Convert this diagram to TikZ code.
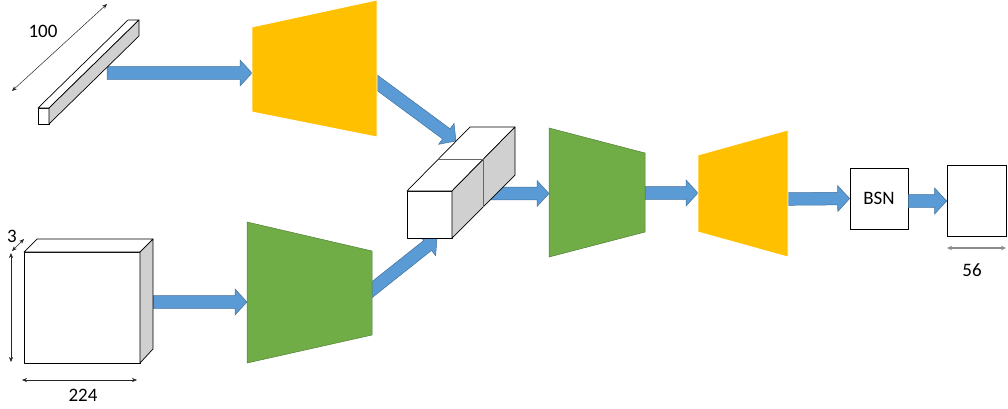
\documentclass[tikz,border=0pt]{standalone}
\usepackage{fontspec}
\setmainfont{Carlito}
\usetikzlibrary{arrows.meta,calc}
\definecolor{ablue}{RGB}{91,155,213}
\definecolor{ablueedge}{RGB}{65,113,156}
\definecolor{tyellow}{RGB}{255,192,0}
\definecolor{tgreen}{RGB}{112,173,71}
\definecolor{tgreenedge}{RGB}{80,126,50}
\definecolor{facegray}{RGB}{208,208,208}
\newcommand\blockarrow[2]{%
  \path[blockarr] let \p1=(#1), \p2=(#2),
    \n1={atan2(\y2-\y1,\x2-\x1)}, \n2={veclen(\x2-\x1,\y2-\y1)} in
    [shift={(\p1)}, rotate=\n1]
    (0,-6.3) -- ({\n2-12},-6.3) -- ({\n2-12},-13) -- ({\n2},0)
    -- ({\n2-12},13) -- ({\n2-12},6.3) -- (0,6.3) -- cycle;}
\begin{document}
\begin{tikzpicture}[x=1pt,y=-1pt,
  blockarr/.style={fill=ablue,draw=ablueedge,line width=0.5pt,line join=miter},
  yellowtrap/.style={fill=tyellow,draw=white,line width=0.8pt},
  greentrap/.style={fill=tgreen,draw=tgreenedge,line width=0.5pt},
  facewhite/.style={fill=white,draw=black,line width=0.7pt,line join=round},
  facegrey/.style={fill=facegray,draw=black,line width=0.7pt,line join=round},
  dimarrow/.style={{Stealth[length=5pt,width=4pt]}-{Stealth[length=5pt,width=4pt]},line width=0.5pt,draw=black!85},
  dimgray/.style={{Stealth[length=5pt,width=4.5pt]}-{Stealth[length=5pt,width=4.5pt]},line width=1.2pt,draw=black!45},
  lbl/.style={font=\fontsize{19}{22}\selectfont,inner sep=0pt},
  boxnode/.style={draw=black,line width=0.7pt,fill=white,inner sep=0pt}]
\useasboundingbox (0,0) rectangle (1008,408);

% connector end points
\coordinate (barout) at (107,73);
\coordinate (y1in) at (252,73);
\coordinate (y1out) at (368,76);
\coordinate (catin1) at (456,141);
\coordinate (cubeout) at (153,302);
\coordinate (g1in) at (247,302);
\coordinate (g1out) at (364,296);
\coordinate (catin2) at (437,238);
\coordinate (catout) at (480,193.5);
\coordinate (g2in) at (549,193.5);
\coordinate (g2out) at (645,193);
\coordinate (y2in) at (698,193);
\coordinate (y2out) at (788,199);

% nodes
\node[boxnode,minimum width=58pt,minimum height=61pt] (bsn) at (879,198.5) {};
\node[lbl] at (bsn.center) {BSN};
\node[boxnode,minimum width=59pt,minimum height=71pt] (outbox) at (976.5,200.5) {};

% block arrows
\blockarrow{barout}{y1in}
\blockarrow{y1out}{catin1}
\blockarrow{cubeout}{g1in}
\blockarrow{g1out}{catin2}
\blockarrow{catout}{g2in}
\blockarrow{g2out}{y2in}
\blockarrow{y2out}{bsn.west}
\path (bsn.east) ++(0,2.5) coordinate (bsnout);
\path (outbox.west) ++(0,0.5) coordinate (outin);
\blockarrow{bsnout}{outin}

% trapezoids
\path[yellowtrap] (252,27) -- (377,0) -- (377,137) -- (252,112) -- cycle;
\path[greentrap] (247,222) -- (372,251) -- (372,335) -- (247,363) -- cycle;
\path[greentrap] (549,128) -- (645,153) -- (645,232) -- (549,257) -- cycle;
\path[yellowtrap] (698,155) -- (788,130) -- (788,257) -- (698,232) -- cycle;

% thin bar (100)
\path[facewhite] (38,108) rectangle (49,124);
\path[facewhite] (38,108) -- (128,20) -- (139,20) -- (49,108) -- cycle;
\path[facegrey] (49,108) -- (139,20) -- (139,36) -- (49,124) -- cycle;

% input cube (224 x 224 x 3)
\path[facewhite] (24,252) rectangle (140,363);
\path[facewhite] (24,252) -- (37,239) -- (153,239) -- (140,252) -- cycle;
\path[facegrey] (140,252) -- (153,239) -- (153,349) -- (140,363) -- cycle;

% concatenated box
\path[facewhite] (407,191) rectangle (452,238);
\path[facewhite] (407,191) -- (470,127) -- (515,127) -- (452,191) -- cycle;
\path[facegrey] (452,191) -- (515,127) -- (515,175) -- (452,238) -- cycle;
\draw[line width=0.5pt,black!60] (438.5,159) -- (483.5,159) -- (483.5,206.5);

% dimension arrows
\coordinate (d100a) at (12,91);
\coordinate (d100b) at (107,4);
\draw[dimarrow] (d100a) -- (d100b);
\node[lbl] (l100) at (43,31) {100};
\coordinate (d3a) at (12,251);
\coordinate (d3b) at (24,239);
\draw[dimarrow] (d3a) -- (d3b);
\node[lbl] (l3) at (12,236) {3};
\coordinate (dva) at (11,253);
\coordinate (dvb) at (11,362);
\draw[dimarrow] (dva) -- (dvb);
\coordinate (dha) at (22,380);
\coordinate (dhb) at (137,380);
\draw[dimarrow] (dha) -- (dhb);
\node[lbl] (l224) at (83,395) {224};
\coordinate (d56a) at (947,248);
\coordinate (d56b) at (1006,248);
\draw[dimgray] (d56a) -- (d56b);
\node[lbl] (l56) at (972,270) {56};
\end{tikzpicture}
\end{document}
